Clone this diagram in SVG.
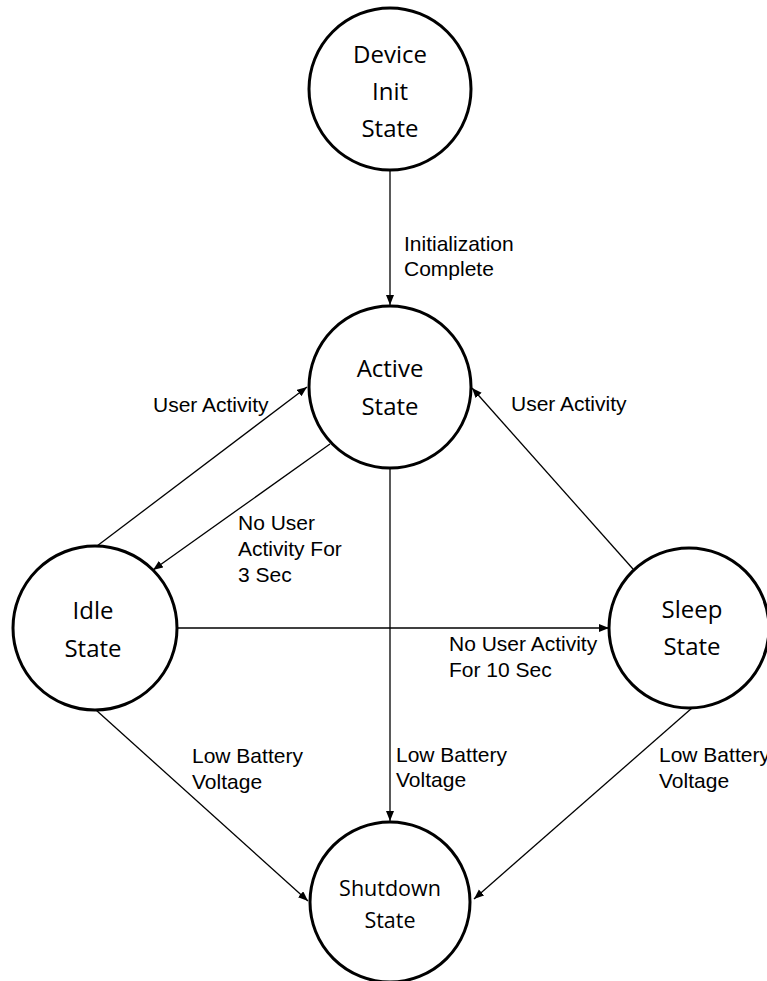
<svg xmlns="http://www.w3.org/2000/svg" width="767" height="981" viewBox="0 0 767 981">
<style>
.node{fill:#ffffff;stroke:#000000;stroke-width:3}
.ntext{font-family:"Open Sans","Noto Sans",sans-serif;font-size:24px;fill:#000000;text-anchor:middle}
.small{font-size:21.5px}
.edge{stroke:#000000;stroke-width:1.3;fill:none;marker-end:url(#arrow)}
.label{font-family:"Liberation Sans",Arial,sans-serif;font-size:21px;fill:#000000}
</style>
<defs>
<marker id="arrow" markerUnits="userSpaceOnUse" markerWidth="11" markerHeight="9" refX="10" refY="4" orient="auto">
<path d="M0,0 L10,4 L0,8 z" fill="#000000"/>
</marker>
</defs>
<rect width="767" height="981" fill="#ffffff"/>
<g id="connectors">
<line class="edge" x1="390" y1="170" x2="390" y2="305"/>
<line class="edge" x1="97" y1="546" x2="307" y2="387"/>
<line class="edge" x1="330" y1="444" x2="153" y2="570"/>
<line class="edge" x1="633" y1="569" x2="472" y2="388"/>
<line class="edge" x1="177" y1="628" x2="609" y2="628"/>
<line class="edge" x1="390" y1="468" x2="390" y2="821"/>
<line class="edge" x1="96" y1="710" x2="308" y2="901"/>
<line class="edge" x1="692" y1="708" x2="474" y2="899"/>
<text class="label" x="404" y="251">Initialization</text>
<text class="label" x="404" y="276">Complete</text>
<text class="label" x="153" y="412">User Activity</text>
<text class="label" x="511" y="411">User Activity</text>
<text class="label" x="238" y="530">No User</text>
<text class="label" x="238" y="556">Activity For</text>
<text class="label" x="238" y="582">3 Sec</text>
<text class="label" x="449" y="651">No User Activity</text>
<text class="label" x="449" y="677">For 10 Sec</text>
<text class="label" x="192" y="763">Low Battery</text>
<text class="label" x="192" y="789">Voltage</text>
<text class="label" x="396" y="762">Low Battery</text>
<text class="label" x="396" y="787">Voltage</text>
<text class="label" x="659" y="762">Low Battery</text>
<text class="label" x="659" y="788">Voltage</text>
</g>
<g id="init">
<circle class="node" cx="390" cy="89" r="81"/>
<text class="ntext" x="390" y="63">Device</text>
<text class="ntext" x="390" y="100">Init</text>
<text class="ntext" x="390" y="137">State</text>
</g>
<g id="active">
<circle class="node" cx="390" cy="387" r="81"/>
<text class="ntext" x="390" y="377">Active</text>
<text class="ntext" x="390" y="415">State</text>
</g>
<g id="idle">
<circle class="node" cx="95" cy="628" r="82"/>
<text class="ntext" x="93" y="619">Idle</text>
<text class="ntext" x="93" y="657">State</text>
</g>
<g id="sleep">
<circle class="node" cx="689" cy="628" r="80"/>
<text class="ntext" x="692" y="618">Sleep</text>
<text class="ntext" x="692" y="655">State</text>
</g>
<g id="shutdown">
<circle class="node" cx="390" cy="902" r="80"/>
<text class="ntext small" x="390" y="896">Shutdown</text>
<text class="ntext small" x="390" y="928">State</text>
</g>
</svg>
